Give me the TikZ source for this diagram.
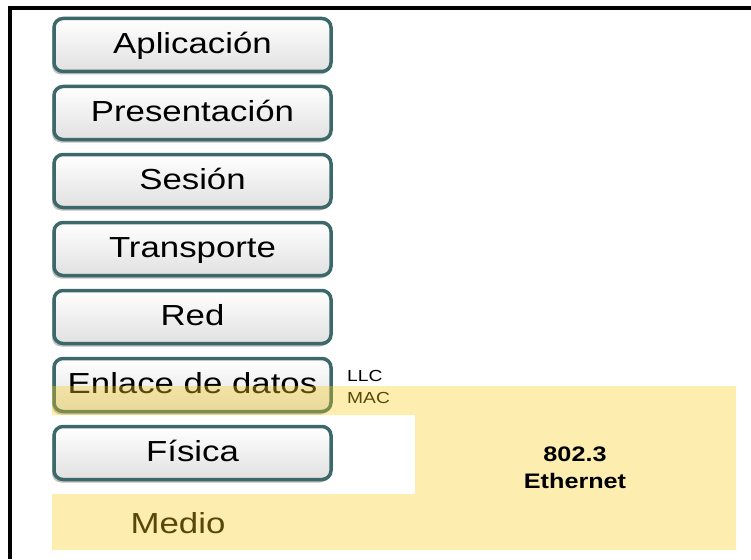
\documentclass[tikz,border=0pt]{standalone}
\usepackage{fontspec}
\setmainfont{Liberation Sans}[FakeStretch=1.2]
\usetikzlibrary{positioning,shadows}
\definecolor{layerline}{RGB}{60,104,106}
\definecolor{medio}{RGB}{249,206,29}
\begin{document}
\begin{tikzpicture}[x=1pt,y=-1pt,
   layer/.style={draw=layerline, line width=3.5pt, rounded corners=9pt,
     top color=white, bottom color=black!12,
     minimum width=277pt, minimum height=53pt,
     text height=22pt, text depth=5pt, inner sep=0pt,
     font=\fontsize{29}{29}\selectfont,
     drop shadow={shadow xshift=-2pt, shadow yshift=-3pt, opacity=.25, fill=black}},
   sublayer/.style={font=\fontsize{16}{16}\selectfont, anchor=base west, inner sep=0pt},
   node distance=11.5pt]

\useasboundingbox (0,0) rectangle (751,559);
\draw[line width=4pt] (9.5,559) -- (9.5,8) -- (751,8);

\node[layer] (apl) at (192.5,45) {Aplicación};
\node[layer, below=of apl] (pre) {Presentación};
\node[layer, below=of pre] (ses) {Sesión};
\node[layer, below=of ses] (tra) {Transporte};
\node[layer, below=of tra] (red) {Red};
\node[layer, below=of red] (enl) {Enlace de datos};
\node[layer, below=of enl] (fis) {Física};

\node[anchor=base, inner sep=0pt, font=\fontsize{29}{29}\selectfont] (med) at (178,533) {Medio};
\node[sublayer] (mac) at (347,403) {MAC};

\fill[medio, fill opacity=.35] (52,386) -- (736,386) -- (736,550) -- (52,550)
   -- (52,494) -- (415,494) -- (415,415) -- (52,415) -- cycle;

\node[sublayer] (llc) at (347,381) {LLC};
\node[align=center, inner sep=0pt, font=\fontsize{21}{27}\bfseries\selectfont] (eth) at (575,468) {802.3\\Ethernet};

\end{tikzpicture}
\end{document}
